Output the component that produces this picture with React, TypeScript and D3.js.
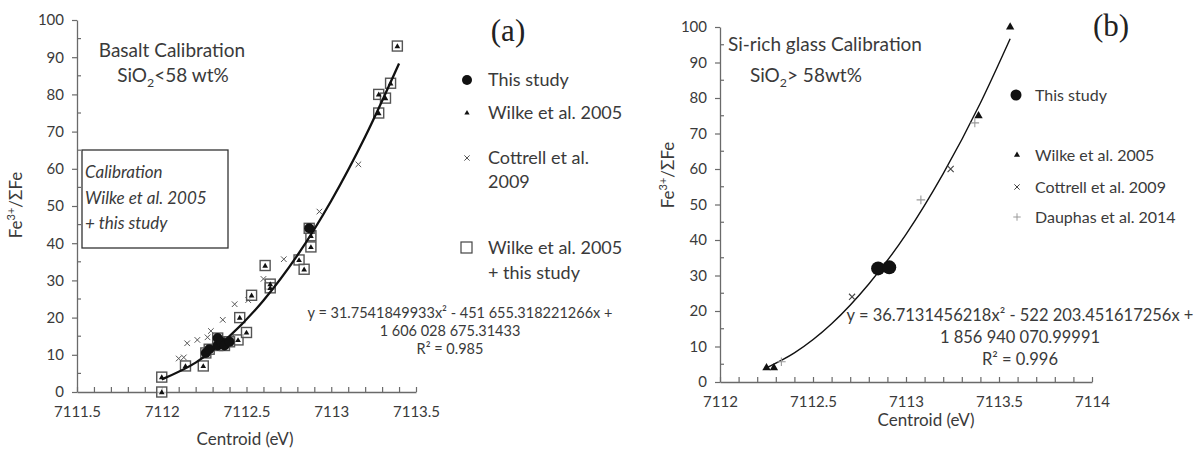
import React, { useEffect, useRef } from 'react';
import * as d3 from 'd3';

// (a) Basalt calibration, SiO2 < 58 wt%
const basaltWilkeX = [7112.0, 7112.0, 7112.14, 7112.245, 7112.45, 7112.5, 7112.46, 7112.53, 7112.61, 7112.64, 7112.64, 7112.81, 7112.84, 7112.88, 7112.88, 7113.28, 7113.28, 7113.32, 7113.35, 7113.39];
const basaltWilkeY = [4, 0, 7, 7, 14, 16, 20, 26, 34, 29, 28, 35.5, 33, 39, 42, 75, 80, 79, 83, 93];
const basaltStudyX = [7112.26, 7112.28, 7112.33, 7112.33, 7112.35, 7112.37, 7112.4, 7112.87];
const basaltStudyY = [10.5, 11.5, 12.5, 14.5, 13.5, 12.5, 13.5, 44];
const basaltCottrellX = [7112.1, 7112.13, 7112.15, 7112.21, 7112.27, 7112.29, 7112.36, 7112.43, 7112.51, 7112.6, 7112.72, 7112.93, 7113.16];
const basaltCottrellY = [9, 9.3, 13.1, 14, 14.7, 16.4, 19.4, 23.6, 24.7, 30.4, 35.7, 48.5, 61.2];
const basaltFitX = [7112.0, 7112.2, 7112.4, 7112.6, 7112.8, 7113.0, 7113.2, 7113.4];
const basaltFitY = [3.4, 7.9, 15.0, 24.6, 36.7, 51.4, 68.6, 88.3];
const basaltXTicks = [7111.5, 7112, 7112.5, 7113, 7113.5];

// (b) Si-rich glass calibration, SiO2 > 58 wt%
const glassWilkeX = [7112.25, 7112.29, 7113.39, 7113.56];
const glassWilkeY = [4, 4, 75, 100];
const glassStudyX = [7112.85, 7112.91];
const glassStudyY = [32, 32.3];
const glassCottrellX = [7112.71, 7113.24];
const glassCottrellY = [24, 60];
const glassDauphasX = [7112.33, 7113.08, 7113.37];
const glassDauphasY = [5.7, 51.3, 73];
const glassFitX = [7112.25, 7112.4, 7112.6, 7112.8, 7113.0, 7113.2, 7113.4, 7113.56];
const glassFitY = [4.0, 8.2, 16.4, 27.6, 41.6, 58.7, 78.6, 96.7];
const glassXTicks = [7112, 7112.5, 7113, 7113.5, 7114];

const yTicks = [0, 10, 20, 30, 40, 50, 60, 70, 80, 90, 100];
const yMinorTicks = [5, 15, 25, 35, 45, 55, 65, 75, 85, 95];

const FONT = "Lato, 'Open Sans', sans-serif";
const AXIS = '#6a6a6a';
const INK = '#3a3a3a';

type Sel = d3.Selection<any, unknown, null, undefined>;

const zip = (xs: number[], ys: number[]) => xs.map((v, i) => [v, ys[i]] as [number, number]);

function drawAxes(g: Sel, x: d3.ScaleLinear<number, number>, y: d3.ScaleLinear<number, number>, labels: number[]) {
  const [d0, d1] = x.domain();
  const minor = d3.range(Math.round(d0 * 10), Math.round(d1 * 10) + 1).map(v => v / 10);
  const isLabel = (v: number) => labels.some(l => Math.abs(l - v) < 1e-6);

  const xa = g.append('g')
    .attr('transform', `translate(0,${y(0)})`)
    .call(d3.axisBottom(x).tickValues(minor).tickSizeInner(-5).tickSizeOuter(0).tickPadding(14)
      .tickFormat(v => (isLabel(+v) ? String(Math.round(+v * 10) / 10) : '')));

  const ya = g.append('g')
    .attr('transform', `translate(${x(d0)},0)`)
    .call(d3.axisLeft(y).tickValues(yTicks).tickSizeInner(5).tickSizeOuter(0).tickPadding(8)
      .tickFormat(d3.format('d')));

  for (const a of [xa, ya]) {
    a.select('.domain').attr('stroke', AXIS).attr('stroke-width', 1.3);
    a.selectAll('line').attr('stroke', AXIS).attr('stroke-width', 1.2);
    a.selectAll('text').attr('fill', INK).attr('font-size', 15).attr('font-family', FONT);
  }

  g.append('g').selectAll('line')
    .data(yMinorTicks)
    .join('line')
    .attr('x1', x(d0)).attr('x2', x(d0) + 4)
    .attr('y1', d => y(d)).attr('y2', d => y(d))
    .attr('stroke', AXIS).attr('stroke-width', 1.2);
}

function label(g: Sel, x: number, y: number, text: string, size: number, anchor = 'start') {
  return g.append('text')
    .attr('x', x).attr('y', y)
    .attr('font-family', FONT).attr('font-size', size)
    .attr('fill', INK).attr('text-anchor', anchor)
    .text(text);
}

function sioText(g: Sel, x: number, y: number, rest: string, size: number, anchor = 'middle') {
  const t = g.append('text')
    .attr('x', x).attr('y', y)
    .attr('font-family', FONT).attr('font-size', size)
    .attr('fill', INK).attr('text-anchor', anchor);
  t.append('tspan').text('SiO');
  t.append('tspan').attr('dy', 5).attr('font-size', size * 0.65).text('2');
  t.append('tspan').attr('dy', -5).text(rest);
}

function feLabel(g: Sel, x: number, y: number) {
  const t = g.append('text')
    .attr('transform', `translate(${x},${y}) rotate(-90)`)
    .attr('font-family', FONT).attr('font-size', 17)
    .attr('fill', INK).attr('text-anchor', 'middle');
  t.append('tspan').text('Fe');
  t.append('tspan').attr('dy', -7).attr('font-size', 11).text('3+');
  t.append('tspan').attr('dy', 7).text('/ΣFe');
}

const triangle = (size: number) => d3.symbol().type(d3.symbolTriangle).size(size)();
const times = (size: number) => d3.symbol().type(d3.symbolTimes).size(size)();
const plus = (size: number) => d3.symbol().type(d3.symbolPlus).size(size)();

export default function App() {
  const svgRef = useRef<SVGSVGElement>(null);

  useEffect(() => {
    if (!svgRef.current) return;
    const svg = d3.select(svgRef.current);
    svg.selectAll('*').remove();

    const line = d3.line<[number, number]>().curve(d3.curveMonotoneX);

    // ---------- panel (a) ----------
    {
      const g = svg.append('g');
      const x = d3.scaleLinear().domain([basaltXTicks[0], basaltXTicks[basaltXTicks.length - 1]]).range([77, 416]);
      const y = d3.scaleLinear().domain([0, 100]).range([392, 20]);
      drawAxes(g, x, y, basaltXTicks);

      // Cottrell crosses
      g.append('g').selectAll('path')
        .data(zip(basaltCottrellX, basaltCottrellY))
        .join('path')
        .attr('transform', d => `translate(${x(d[0])},${y(d[1])})`)
        .attr('d', times(22))
        .attr('fill', 'none').attr('stroke', '#555').attr('stroke-width', 1);

      // open squares: Wilke + this study
      const sq = [...zip(basaltWilkeX, basaltWilkeY), ...zip(basaltStudyX, basaltStudyY)];
      g.append('g').selectAll('rect')
        .data(sq)
        .join('rect')
        .attr('x', d => x(d[0]) - 5).attr('y', d => y(d[1]) - 5)
        .attr('width', 10).attr('height', 10)
        .attr('fill', '#fff').attr('fill-opacity', 0.6)
        .attr('stroke', '#555').attr('stroke-width', 1.4);

      // fitted curve
      g.append('path')
        .datum(zip(basaltFitX, basaltFitY).map(d => [x(d[0]), y(d[1])] as [number, number]))
        .attr('d', line)
        .attr('fill', 'none').attr('stroke', '#111').attr('stroke-width', 2.3);

      // Wilke triangles
      g.append('g').selectAll('path')
        .data(zip(basaltWilkeX, basaltWilkeY))
        .join('path')
        .attr('transform', d => `translate(${x(d[0])},${y(d[1]) + 0.5})`)
        .attr('d', triangle(14))
        .attr('fill', '#111');

      // this study
      g.append('g').selectAll('circle')
        .data(zip(basaltStudyX, basaltStudyY))
        .join('circle')
        .attr('cx', d => x(d[0])).attr('cy', d => y(d[1]))
        .attr('r', 5)
        .attr('fill', '#111');

      label(g, 172, 57, 'Basalt Calibration', 19, 'middle');
      sioText(g, 173, 82, '<58 wt%', 19);
      g.append('text').attr('x', 508).attr('y', 41).attr('text-anchor', 'middle')
        .attr('font-family', "'Liberation Serif', serif").attr('font-size', 31).attr('fill', '#222').text('(a)');

      g.append('rect').attr('x', 82).attr('y', 150).attr('width', 146).attr('height', 98)
        .attr('fill', 'none').attr('stroke', '#333').attr('stroke-width', 1.3);
      ['Calibration', 'Wilke et al. 2005', '+ this study'].forEach((t, i) =>
        label(g, 85, 178 + i * 25.5, t, 17).attr('font-style', 'italic'));

      // legend
      g.append('circle').attr('cx', 467).attr('cy', 80).attr('r', 5).attr('fill', '#111');
      label(g, 488, 86, 'This study', 18);
      g.append('path').attr('transform', 'translate(467,113)').attr('d', triangle(12)).attr('fill', '#111');
      label(g, 488, 119, 'Wilke et al. 2005', 18);
      g.append('path').attr('transform', 'translate(467,158)').attr('d', times(20))
        .attr('fill', 'none').attr('stroke', '#555').attr('stroke-width', 1);
      label(g, 488, 164, 'Cottrell et al.', 18);
      label(g, 488, 188, '2009', 18);
      g.append('rect').attr('x', 461).attr('y', 242).attr('width', 11).attr('height', 11)
        .attr('fill', 'none').attr('stroke', '#444').attr('stroke-width', 1.2);
      label(g, 488, 254, 'Wilke et al. 2005', 18);
      label(g, 488, 279, '+ this study', 18);

      label(g, 460, 318, 'y = 31.7541849933x² - 451 655.318221266x +', 14.5, 'middle');
      label(g, 450, 336, '1 606 028 675.31433', 14.5, 'middle');
      label(g, 450, 354, 'R² = 0.985', 14.5, 'middle');

      label(g, 245, 445, 'Centroid (eV)', 17, 'middle');
      feLabel(g, 22, 205);
    }

    // ---------- panel (b) ----------
    {
      const g = svg.append('g');
      const x = d3.scaleLinear().domain([glassXTicks[0], glassXTicks[glassXTicks.length - 1]]).range([720, 1092]);
      const y = d3.scaleLinear().domain([0, 100]).range([382, 27]);
      drawAxes(g, x, y, glassXTicks);

      g.append('path')
        .datum(zip(glassFitX, glassFitY).map(d => [x(d[0]), y(d[1])] as [number, number]))
        .attr('d', line)
        .attr('fill', 'none').attr('stroke', '#111').attr('stroke-width', 1.4);

      g.append('g').selectAll('path')
        .data(zip(glassDauphasX, glassDauphasY))
        .join('path')
        .attr('transform', d => `translate(${x(d[0])},${y(d[1])})`)
        .attr('d', plus(26))
        .attr('fill', 'none').attr('stroke', '#9a9a9a').attr('stroke-width', 1.1);

      g.append('g').selectAll('path')
        .data(zip(glassCottrellX, glassCottrellY))
        .join('path')
        .attr('transform', d => `translate(${x(d[0])},${y(d[1])})`)
        .attr('d', times(26))
        .attr('fill', 'none').attr('stroke', '#444').attr('stroke-width', 1.1);

      g.append('g').selectAll('path')
        .data(zip(glassWilkeX, glassWilkeY))
        .join('path')
        .attr('transform', d => `translate(${x(d[0])},${y(d[1])})`)
        .attr('d', triangle(30))
        .attr('fill', '#111');

      g.append('g').selectAll('circle')
        .data(zip(glassStudyX, glassStudyY))
        .join('circle')
        .attr('cx', d => x(d[0])).attr('cy', d => y(d[1]))
        .attr('r', 7)
        .attr('fill', '#111');

      label(g, 728, 51, 'Si-rich glass Calibration', 19);
      sioText(g, 750, 82, '> 58wt%', 19, 'start');
      g.append('text').attr('x', 1111).attr('y', 36).attr('text-anchor', 'middle')
        .attr('font-family', "'Liberation Serif', serif").attr('font-size', 31).attr('fill', '#222').text('(b)');

      g.append('circle').attr('cx', 1016).attr('cy', 95).attr('r', 5.5).attr('fill', '#111');
      label(g, 1035, 101, 'This study', 16);
      g.append('path').attr('transform', 'translate(1017,155)').attr('d', triangle(16)).attr('fill', '#111');
      label(g, 1035, 161, 'Wilke et al. 2005', 16);
      g.append('path').attr('transform', 'translate(1017,187)').attr('d', times(20))
        .attr('fill', 'none').attr('stroke', '#444').attr('stroke-width', 1);
      label(g, 1035, 193, 'Cottrell et al. 2009', 16);
      g.append('path').attr('transform', 'translate(1017,217)').attr('d', plus(20))
        .attr('fill', 'none').attr('stroke', '#9a9a9a').attr('stroke-width', 1);
      label(g, 1035, 223, 'Dauphas et al. 2014', 16);

      label(g, 1020, 321, 'y = 36.7131456218x² - 522 203.451617256x +', 16.5, 'middle');
      label(g, 1020, 343, '1 856 940 070.99991', 16.5, 'middle');
      label(g, 1020, 365, 'R² = 0.996', 16.5, 'middle');

      label(g, 926, 426, 'Centroid (eV)', 17, 'middle');
      feLabel(g, 674, 175);
    }
  }, []);

  return (
    <svg ref={svgRef} width={1201} height={452}
      style={{ position: 'absolute', left: 0, top: 0, background: '#fff' }} />
  );
}
